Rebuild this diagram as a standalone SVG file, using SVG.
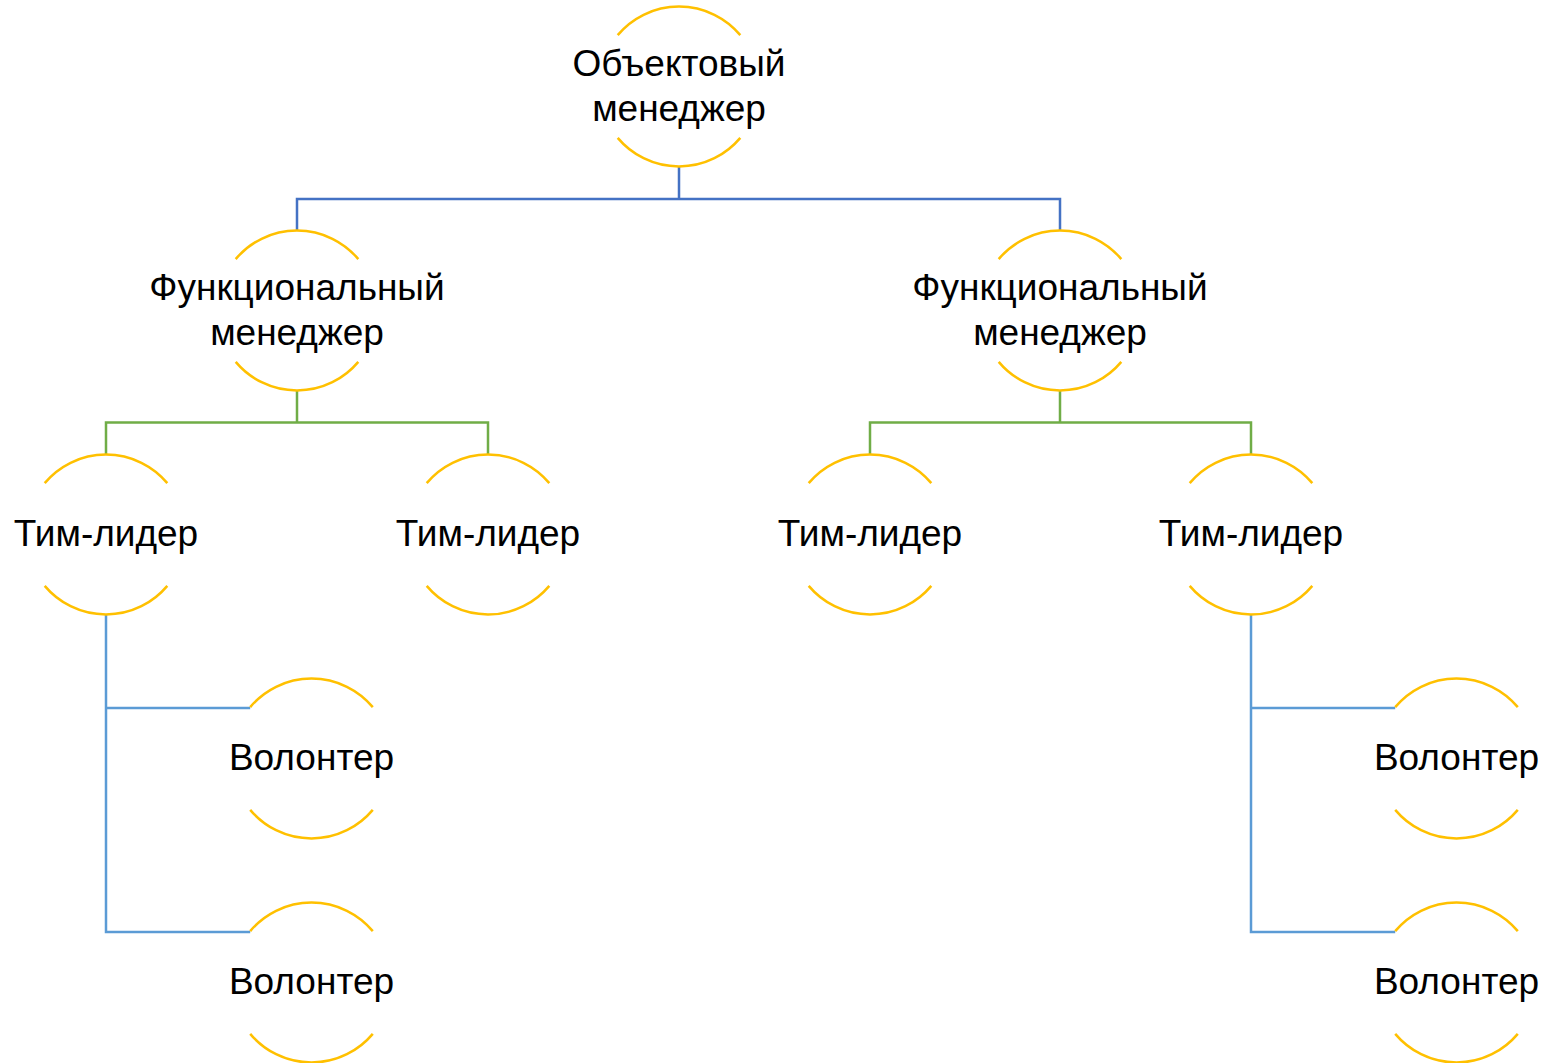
<svg xmlns="http://www.w3.org/2000/svg" xmlns:xlink="http://www.w3.org/1999/xlink" width="1544" height="1063" viewBox="0 0 1544 1063">
<style>
  .arc { fill: none; stroke: #FFC000; stroke-width: 2.5; }
  .lbl { font-family: "Liberation Sans", Arial, sans-serif; font-size: 37px; fill: #000000; text-anchor: middle; }
  .c1 { fill: none; stroke: #4472C4; stroke-width: 2.5; }
  .c2 { fill: none; stroke: #70AD47; stroke-width: 2.5; }
  .c3 { fill: none; stroke: #5B9BD5; stroke-width: 2.5; }
</style>
<defs>
  <g id="ring">
    <path class="arc" d="M -61.3,-51.4 A 80 80 0 0 1 61.3,-51.4"/>
    <path class="arc" d="M -61.3,51.4 A 80 80 0 0 0 61.3,51.4"/>
  </g>
</defs>
<rect width="1544" height="1063" fill="#ffffff"/>
<g id="connectors">
  <path class="c1" d="M 679,166.5 V 199 M 297,230.5 V 199 H 1060 V 230.5"/>
  <path class="c2" d="M 297,390.5 V 422.5 M 106,454.5 V 422.5 H 488 V 454.5"/>
  <path class="c2" d="M 1060,390.5 V 422.5 M 870,454.5 V 422.5 H 1251 V 454.5"/>
  <path class="c3" d="M 106,614.5 V 932 H 250.2 M 106,708 H 250.2"/>
  <path class="c3" d="M 1251,614.5 V 932 H 1395.2 M 1251,708 H 1395.2"/>
</g>
<g id="n-object">
  <use xlink:href="#ring" transform="translate(679,86.5)"/>
  <text class="lbl" x="679" y="76">Объектовый</text>
  <text class="lbl" x="679" y="121">менеджер</text>
</g>
<g id="n-func1">
  <use xlink:href="#ring" transform="translate(297,310.5)"/>
  <text class="lbl" x="297" y="300">Функциональный</text>
  <text class="lbl" x="297" y="345">менеджер</text>
</g>
<g id="n-func2">
  <use xlink:href="#ring" transform="translate(1060,310.5)"/>
  <text class="lbl" x="1060" y="300">Функциональный</text>
  <text class="lbl" x="1060" y="345">менеджер</text>
</g>
<g id="n-tl1">
  <use xlink:href="#ring" transform="translate(106,534.5)"/>
  <text class="lbl" x="106" y="546">Тим-лидер</text>
</g>
<g id="n-tl2">
  <use xlink:href="#ring" transform="translate(488,534.5)"/>
  <text class="lbl" x="488" y="546">Тим-лидер</text>
</g>
<g id="n-tl3">
  <use xlink:href="#ring" transform="translate(870,534.5)"/>
  <text class="lbl" x="870" y="546">Тим-лидер</text>
</g>
<g id="n-tl4">
  <use xlink:href="#ring" transform="translate(1251,534.5)"/>
  <text class="lbl" x="1251" y="546">Тим-лидер</text>
</g>
<g id="n-vol1">
  <use xlink:href="#ring" transform="translate(311.5,758.5)"/>
  <text class="lbl" x="311.5" y="770">Волонтер</text>
</g>
<g id="n-vol2">
  <use xlink:href="#ring" transform="translate(311.5,982.5)"/>
  <text class="lbl" x="311.5" y="994">Волонтер</text>
</g>
<g id="n-vol3">
  <use xlink:href="#ring" transform="translate(1456.5,758.5)"/>
  <text class="lbl" x="1456.5" y="770">Волонтер</text>
</g>
<g id="n-vol4">
  <use xlink:href="#ring" transform="translate(1456.5,982.5)"/>
  <text class="lbl" x="1456.5" y="994">Волонтер</text>
</g>
</svg>
